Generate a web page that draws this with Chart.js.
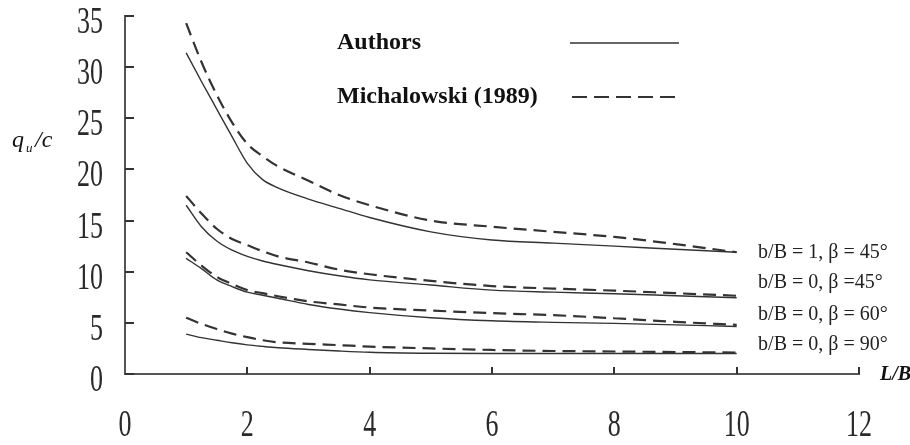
<!DOCTYPE html>
<html><head><meta charset="utf-8">
<script src="https://cdn.jsdelivr.net/npm/chart.js@4.4.0/dist/chart.umd.min.js"></script>
<style>html,body{margin:0;padding:0;background:#fff;overflow:hidden}#wrap{width:910px;height:445px;position:relative}</style>
</head><body><div id="wrap"><canvas id="c" width="910" height="445"></canvas></div>
<script>
// ---- data ----
const ratioLB = [1, 1.25, 1.5, 1.75, 2, 2.25, 2.5, 3, 3.5, 4, 5, 6, 7, 8, 9, 10];
const authorsB1b45 = [31.4, 28.6, 25.9, 23.2, 20.6, 19.0, 18.2, 17.1, 16.2, 15.3, 13.9, 13.1, 12.8, 12.5, 12.2, 11.9];
const michB1b45    = [34.3, 30.5, 27.3, 24.6, 22.5, 21.3, 20.3, 18.9, 17.5, 16.5, 15.0, 14.4, 13.9, 13.4, 12.7, 11.9];
const authorsB0b45 = [16.5, 14.4, 13.0, 12.1, 11.5, 11.05, 10.7, 10.1, 9.6, 9.2, 8.7, 8.2, 8.0, 7.85, 7.65, 7.45];
const michB0b45    = [17.4, 15.7, 14.2, 13.2, 12.6, 12.0, 11.5, 10.9, 10.2, 9.75, 9.1, 8.6, 8.35, 8.15, 7.9, 7.65];
const authorsB0b60 = [11.3, 10.3, 9.2, 8.55, 8.0, 7.7, 7.4, 6.8, 6.35, 6.0, 5.5, 5.2, 5.05, 4.95, 4.8, 4.65];
const michB0b60    = [11.9, 10.6, 9.5, 8.8, 8.2, 7.9, 7.6, 7.1, 6.8, 6.5, 6.2, 5.95, 5.75, 5.45, 5.1, 4.8];
const authorsB0b90 = [3.9, 3.55, 3.3, 3.05, 2.85, 2.7, 2.57, 2.4, 2.25, 2.13, 2.03, 2.0, 2.0, 2.0, 2.0, 2.0];
const michB0b90    = [5.5, 4.9, 4.4, 3.95, 3.6, 3.3, 3.1, 2.95, 2.82, 2.68, 2.5, 2.35, 2.25, 2.2, 2.15, 2.1];
const xTickLabels = [0, 2, 4, 6, 8, 10, 12];
const yTickLabels = [0, 5, 10, 15, 20, 25, 30, 35];
const curveLabels = ['b/B = 1, β = 45°', 'b/B = 0, β =45°', 'b/B = 0, β = 60°', 'b/B = 0, β = 90°'];
const curveLabelY = [11.83, 8.9, 5.77, 2.83];
const curveLabelX = 10.35;
const legendNames = ['Authors', 'Michalowski (1989)'];

const INK = '#333';
const pts = arr => ratioLB.map((x, i) => ({x: x, y: arr[i]}));
const solid = (label, arr) => ({label, data: pts(arr), borderColor: INK, borderWidth: 1.4, pointRadius: 0, fill: false, cubicInterpolationMode: 'monotone'});
const dashed = (label, arr) => ({label, data: pts(arr), borderColor: INK, borderWidth: 2.2, borderDash: [13, 7], pointRadius: 0, fill: false, cubicInterpolationMode: 'monotone'});

const serif = '"Liberation Serif", "Times New Roman", serif';
const STRETCH = 1.45;

const axisPlugin = {
  id: 'axisDecor',
  afterDraw(chart) {
    const ctx = chart.ctx;
    const xs = chart.scales.x, ys = chart.scales.y;
    const left = xs.getPixelForValue(0), bottom = ys.getPixelForValue(0);
    ctx.save();
    // inward tick marks
    ctx.setLineDash([]);
    ctx.strokeStyle = '#333';
    ctx.lineWidth = 2;
    yTickLabels.forEach(v => {
      const py = Math.round(ys.getPixelForValue(v));
      ctx.beginPath(); ctx.moveTo(left, py); ctx.lineTo(left + 9, py); ctx.stroke();
    });
    xTickLabels.forEach(v => {
      if (v === 0) return;
      const px = Math.round(xs.getPixelForValue(v));
      ctx.beginPath(); ctx.moveTo(px, bottom); ctx.lineTo(px, bottom - 7); ctx.stroke();
    });
    // tick labels (tall serif digits)
    ctx.fillStyle = '#2a2a2a';
    ctx.font = '26px ' + serif;
    ctx.textBaseline = 'alphabetic';
    const half = 0.33 * 26 * STRETCH;
    ctx.textAlign = 'right';
    yTickLabels.forEach(v => {
      const py = ys.getPixelForValue(v);
      ctx.save(); ctx.translate(103, py + 4.5 + half); ctx.scale(1, STRETCH);
      ctx.fillText(String(v), 0, 0); ctx.restore();
    });
    ctx.textAlign = 'center';
    xTickLabels.forEach(v => {
      const px = xs.getPixelForValue(v);
      ctx.save(); ctx.translate(px, 424 + half); ctx.scale(1, STRETCH);
      ctx.fillText(String(v), 0, 0); ctx.restore();
    });
    // legend
    ctx.fillStyle = '#111';
    ctx.strokeStyle = INK;
    ctx.font = 'bold 24px ' + serif;
    ctx.textBaseline = 'middle';
    ctx.textAlign = 'left';
    ctx.fillText(legendNames[0], 337, 43);
    ctx.fillText(legendNames[1], 337, 97);
    ctx.lineWidth = 1.6;
    ctx.beginPath(); ctx.moveTo(570, 43); ctx.lineTo(679, 43); ctx.stroke();
    ctx.lineWidth = 2;
    ctx.setLineDash([15, 7]);
    ctx.beginPath(); ctx.moveTo(572, 97); ctx.lineTo(679, 97); ctx.stroke();
    ctx.setLineDash([]);
    // curve labels
    ctx.font = '20px ' + serif;
    ctx.fillStyle = '#222';
    curveLabels.forEach((t, i) => {
      ctx.fillText(t, xs.getPixelForValue(curveLabelX), ys.getPixelForValue(curveLabelY[i]));
    });
    // axis titles
    ctx.fillStyle = '#111';
    ctx.font = 'bold italic 20px ' + serif;
    ctx.fillText('L/B', 880, 375);
    ctx.font = 'italic 24px ' + serif;
    ctx.textBaseline = 'alphabetic';
    ctx.fillText('q', 12, 147);
    ctx.font = 'italic 13px ' + serif;
    ctx.fillText('u', 26, 152);
    ctx.font = 'italic 24px ' + serif;
    ctx.fillText('/c', 35, 147);
    ctx.restore();
  }
};

new Chart(document.getElementById('c'), {
  type: 'line',
  data: {
    datasets: [
      solid('Authors b/B=1 β=45', authorsB1b45),
      dashed('Michalowski b/B=1 β=45', michB1b45),
      solid('Authors b/B=0 β=45', authorsB0b45),
      dashed('Michalowski b/B=0 β=45', michB0b45),
      solid('Authors b/B=0 β=60', authorsB0b60),
      dashed('Michalowski b/B=0 β=60', michB0b60),
      solid('Authors b/B=0 β=90', authorsB0b90),
      dashed('Michalowski b/B=0 β=90', michB0b90)
    ]
  },
  options: {
    responsive: false,
    animation: false,
    devicePixelRatio: 1,
    layout: {padding: {top: 16, right: 51, left: 0, bottom: 0}},
    plugins: {legend: {display: false}, tooltip: {enabled: false}},
    scales: {
      x: {
        type: 'linear', min: 0, max: 12,
        afterFit: s => { s.height = 71; },
        ticks: {display: false, stepSize: 2},
        grid: {display: false},
        border: {display: true, color: '#555', width: 2}
      },
      y: {
        type: 'linear', min: 0, max: 35,
        afterFit: s => { s.width = 125; },
        ticks: {display: false, stepSize: 5},
        grid: {display: false},
        border: {display: true, color: '#555', width: 2}
      }
    }
  },
  plugins: [axisPlugin]
});
</script>
</body></html>
